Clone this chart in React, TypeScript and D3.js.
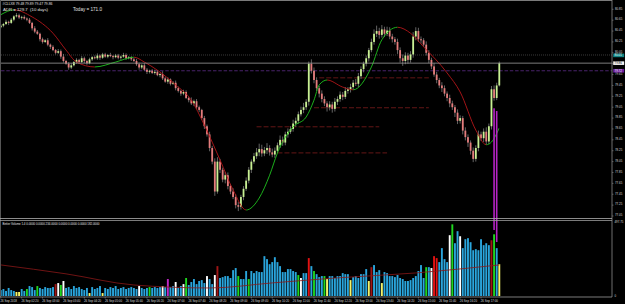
import React from "react";
import * as d3 from "d3";

// ---------- DATA ----------
const closes = [
  80.55,80.58,80.62,80.60,80.66,80.72,80.74,80.70,80.71,80.68,
  80.66,80.60,80.50,80.44,80.40,80.30,80.25,80.28,80.20,80.16,
  80.10,80.05,80.08,79.98,79.90,79.85,79.78,79.82,79.88,79.92,
  79.88,79.95,79.90,79.86,79.93,79.97,79.95,80.00,79.96,80.02,
  79.98,80.01,79.99,79.97,80.00,79.96,79.98,80.01,79.95,79.97,
  79.93,79.90,79.84,79.78,79.82,79.74,79.70,79.72,79.68,79.70,
  79.64,79.66,79.58,79.52,79.56,79.48,79.50,79.40,79.35,79.30,
  79.33,79.22,79.18,79.12,79.16,79.05,79.00,78.85,78.70,78.55,
  78.30,78.05,77.50,78.05,77.90,77.72,77.80,77.60,77.50,77.40,
  77.25,77.22,77.40,77.55,77.70,77.90,78.05,78.15,78.22,78.28,
  78.20,78.26,78.30,78.22,78.18,78.25,78.35,78.45,78.40,78.55,
  78.60,78.65,78.75,78.80,78.92,79.00,79.05,79.15,79.85,79.72,
  79.55,79.40,79.30,79.20,79.12,79.05,79.10,79.02,79.15,79.20,
  79.28,79.24,79.35,79.38,79.42,79.50,79.48,79.62,79.75,79.85,
  79.95,80.10,80.25,80.40,80.45,80.38,80.48,80.40,80.46,80.35,
  80.30,80.25,80.10,79.95,79.90,80.00,79.92,80.02,80.35,80.45,
  80.30,80.28,80.20,80.05,79.92,79.80,79.65,79.55,79.45,79.40,
  79.30,79.22,79.12,79.05,78.95,78.80,78.85,78.62,78.50,78.40,
  78.25,78.10,78.30,78.55,78.48,78.60,78.42,78.70,79.38,79.22,
  79.45,79.86,
];
const opens = [
  80.52,80.55,80.58,80.62,80.60,80.66,80.72,80.74,80.70,80.71,
  80.68,80.66,80.60,80.50,80.44,80.40,80.30,80.25,80.28,80.20,
  80.16,80.10,80.05,80.08,79.98,79.90,79.85,79.78,79.82,79.88,
  79.92,79.88,79.95,79.90,79.86,79.93,79.97,79.95,80.00,79.96,
  80.02,79.98,80.01,79.99,79.97,80.00,79.96,79.98,80.01,79.95,
  79.97,79.93,79.90,79.84,79.78,79.82,79.74,79.70,79.72,79.68,
  79.70,79.64,79.66,79.58,79.52,79.56,79.48,79.50,79.40,79.35,
  79.30,79.33,79.22,79.18,79.12,79.16,79.05,79.00,78.85,78.70,
  78.55,78.30,78.05,77.50,78.05,77.90,77.72,77.80,77.60,77.50,
  77.40,77.25,77.22,77.40,77.55,77.70,77.90,78.05,78.15,78.22,
  78.28,78.20,78.26,78.30,78.22,78.18,78.25,78.35,78.45,78.40,
  78.55,78.60,78.65,78.75,78.80,78.92,79.00,79.05,79.15,79.85,
  79.72,79.55,79.40,79.30,79.20,79.12,79.05,79.10,79.02,79.15,
  79.20,79.28,79.24,79.35,79.38,79.42,79.50,79.48,79.62,79.75,
  79.85,79.95,80.10,80.25,80.40,80.45,80.38,80.48,80.40,80.46,
  80.35,80.30,80.25,80.10,79.95,79.90,80.00,79.92,80.02,80.35,
  80.45,80.30,80.28,80.20,80.05,79.92,79.80,79.65,79.55,79.45,
  79.40,79.30,79.22,79.12,79.05,78.95,78.80,78.85,78.62,78.50,
  78.40,78.25,78.10,78.30,78.55,78.48,78.60,78.42,78.70,79.38,
  79.22,79.45,
];
// wick lengths above / below the body, in hundredths
const upperWick = [
  3,2,4,2,3,2,4,3,2,3, 2,3,2,4,3,2,3,2,4,2, 3,2,4,3,5,2,3,4,2,3, 2,4,3,2,3,2,3,4,2,3,
  3,2,4,2,3,3,2,4,3,2, 2,3,4,3,2,4,3,2,3,4, 3,2,5,3,4,2,3,4,3,2, 4,3,2,5,3,4,3,2,4,3,
  5,4,6,8,5,4,6,5,4,6, 5,6,4,5,6,5,4,6,8,10, 8,6,9,5,7,6,5,8,6,5, 6,5,7,6,5,6,8,5,4,8,
  6,5,4,6,5,4,6,5,7,5, 6,5,7,4,6,5,7,6,5,4, 5,4,6,8,10,6,8,5,7,6, 5,4,6,5,7,6,5,6,8,7,
  6,5,4,6,5,4,6,5,4,6, 5,4,6,5,4,6,5,4,6,5, 4,6,5,7,5,6,8,5,6,7, 5,3,
];
const lowerWick = [
  2,3,2,4,2,3,2,3,4,2, 3,2,4,3,2,4,3,2,3,4, 2,3,2,4,3,2,4,3,2,3, 3,2,4,3,2,3,2,3,4,2,
  2,3,2,4,2,3,4,2,3,2, 3,2,3,4,3,2,4,3,2,3, 2,4,3,2,4,3,2,4,3,4, 3,2,4,3,5,3,4,3,5,4,
  6,5,8,4,6,5,7,6,5,4, 6,8,5,6,4,5,6,4,5,7, 6,5,7,6,5,6,4,5,6,5, 6,4,5,6,5,4,6,5,7,5,
  6,5,7,6,5,8,6,7,5,6, 5,6,4,5,6,5,4,6,5,6, 5,6,4,5,6,7,5,6,4,5, 6,5,7,8,9,6,7,5,6,7,
  5,6,4,5,6,5,4,6,5,7, 5,6,7,5,8,6,5,7,6,8, 7,6,5,6,5,7,6,5,6,5, 4,2,
];
const volumes = [
  40,47,34,54,40,34,27,27,47,34, 47,67,60,40,67,54,47,60,54,54,
  60,80,87,74,101,54,60,47,67,54, 60,47,40,54,20,60,47,54,67,20,
  54,47,60,54,67,47,54,60,47,54, 60,54,47,67,54,47,54,60,54,60,
  54,60,67,60,114,60,67,94,54,67, 80,121,74,94,114,80,101,107,87,134,
  114,80,141,201,121,127,134,134,121,174, 188,134,114,114,168,114,168,154,168,161,
  161,268,248,214,228,261,228,201,161,161, 181,181,168,161,141,121,154,154,255,201,
  168,147,127,134,134,114,134,134,121,134, 134,154,147,147,107,127,134,121,147,147,
  181,101,194,208,161,174,87,161,154,134, 134,127,141,121,114,101,101,107,121,134,
  168,208,121,194,194,188,268,255,228,322, 248,228,409,482,355,436,402,322,382,389,
  362,308,315,308,382,342,355,342,375,415, 322,214,
];
// B blue, Y yellow, G green, W white, R red, D dark red, M magenta
const volumeKinds = (
  "BBBBBBYYBB" + "GBBBGBBBBB" + "BDWGWBBBBB" + "BBBBYBBBBY" + "BBBBBBBBBB" +
  "BBBWBBBGBB" + "BBWBMBBWBB" + "WGBBBBBBBW" + "BBWDBBBBBB" + "BGBBBGBBBB" +
  "BBBBBBBBBB" + "BBBBGWBBRB" + "GBBBGYBBBB" + "BBBBYBBBBB" + "BYDBBBYBBB" +
  "BBBBBBBBBB" + "BBBGBWRRBB" + "BBWGBBWBBB" + "BBBBBBBBDG" + "BY"
).split("");
const kindColor: Record<string, string> = {
  B: "#2aa5dc", Y: "#f4f46a", G: "#1fd61f", W: "#ffffff", R: "#e21212", D: "#a01616", M: "#c326c8",
};

// smoothed moving average of price
const maIdx = [0,5,12,20,25,29,36,44,51,55,60,67,73,78,84,89,94,99,103,106,112,117,120,122,125,131,135,142,146,152,157,162,171,176,182,186,188,191];
const maVal = [80.75,80.84,80.71,80.41,80.10,79.88,79.79,79.88,79.97,79.88,79.73,79.46,79.18,78.72,78.08,77.53,77.16,77.38,77.80,78.21,78.69,78.87,79.18,79.46,79.55,79.42,79.37,79.79,80.29,80.52,80.41,80.16,79.68,79.33,78.63,78.36,78.41,78.67];
const maTurns = [0,5,36,51,94,125,135,152,186,191];

// volume average
const volAvgIdx = [0,25,51,80,104,129,159,191];
const volAvg = [209,149,74,54,88,122,155,209];

// horizontal levels
const bidPrice = 79.86;
const dottedLevel = 80.01;
const purpleLevel = 79.72;
const redLevels = [79.59, 79.04, 78.69, 78.21];
const redFrom = [122, 120, 98, 106];
const redTo = [164, 164, 145, 148];

// magenta spikes
const spikeIdx = [189, 190];
const spikeTop = [79.03, 78.98];
const spikeBottomVol = [444, 363];

const priceTicks = [80.85,80.65,80.45,80.25,80.05,79.85,79.65,79.45,79.25,79.05,78.85,78.65,78.45,78.25,78.05,77.85,77.65,77.45,77.25,77.05];
const timeBars = [0,8,16,24,32,40,48,56,64,72,80,88,96,104,112,120,128,136,144,152,160,168,176,184];
const timeLabels = ["26 Sep 2018","26 Sep 02:20","26 Sep 03:00","26 Sep 03:40","26 Sep 04:20","26 Sep 05:00","26 Sep 05:40","26 Sep 06:20","26 Sep 07:00","26 Sep 07:40","26 Sep 08:20","26 Sep 09:00","26 Sep 09:40","26 Sep 10:20","26 Sep 11:00","26 Sep 11:40","26 Sep 12:20","26 Sep 13:00","26 Sep 13:40","26 Sep 14:20","26 Sep 15:00","26 Sep 15:40","26 Sep 16:20","26 Sep 17:00"];

const titleText = "#CLLX8 79.48 79.89 79.47 79.86";
const adrText = "ADR = 129.7  (10 days)";
const todayText = "Today = 171.0";
const volTitle = "Better Volume 1.4 0.0000 0.0000 234.0000 0.0000 0.0000 0.0000 182.0000";
const volMaxLabel = "497.75";

// ---------- CHART ----------
const W = 625, H = 304;
const FONT = "'Liberation Sans', Arial, sans-serif";

export default function App() {
  const N = closes.length;
  const x = d3.scaleLinear().domain([0, N - 1]).range([0.8, 499.3]);
  const y = d3.scaleLinear().domain([80.85, 77.05]).range([9.3, 216]);
  const yv = d3.scaleLinear().domain([0, 497.75]).range([296, 222]);

  const mainL = 1, mainR = 612, mainT = 1, mainB = 218.5;
  const volT = 220.5, volB = 297;

  const maPath = d3.line<number>()
    .x((_, k) => x(maIdx[k]))
    .y((d) => y(d))
    .curve(d3.curveMonotoneX)(maVal) || "";
  const volAvgPath = d3.line<number>()
    .x((_, k) => x(volAvgIdx[k]))
    .y((d) => yv(d))
    .curve(d3.curveMonotoneX)(volAvg) || "";

  const bw = 1.8;
  const boxH = 3.6;
  const lblFs = 2.9;

  return (
    <div style={{ position: "fixed", left: 0, top: 0 }}>
      <svg width={W} height={H} style={{ display: "block", background: "#000" }} fontFamily={FONT}>
        <rect x={0} y={0} width={W} height={H} fill="#000" />
        <defs>
          <clipPath id="mainClip">
            <rect x={mainL} y={mainT} width={mainR - mainL} height={mainB - mainT} />
          </clipPath>
          {maTurns.slice(0, -1).map((a, k) => (
            <clipPath id={`maclip${k}`} key={k}>
              <rect x={x(a)} y={0} width={x(maTurns[k + 1]) - x(a)} height={H} />
            </clipPath>
          ))}
        </defs>

        {/* horizontal levels */}
        <line x1={mainL} x2={mainR} y1={y(dottedLevel)} y2={y(dottedLevel)} stroke="#4a4a4a" strokeWidth={0.8} strokeDasharray="1,1" />
        <line x1={mainL} x2={mainR} y1={y(purpleLevel)} y2={y(purpleLevel)} stroke="#5c2c86" strokeWidth={0.8} strokeDasharray="3.5,1.8" />
        {redLevels.map((p, k) => (
          <line key={k} x1={x(redFrom[k])} x2={x(redTo[k])} y1={y(p)} y2={y(p)} stroke="#7c1c1c" strokeWidth={0.8} strokeDasharray="5,2" />
        ))}

        {/* candles */}
        <g clipPath="url(#mainClip)">
          {closes.map((c, i) => {
            const o = opens[i];
            const hi = Math.max(o, c) + upperWick[i] / 100;
            const lo = Math.min(o, c) - lowerWick[i] / 100;
            const bull = c >= o;
            const top = y(Math.max(o, c));
            const h = Math.max(0.8, y(Math.min(o, c)) - top);
            return (
              <g key={i}>
                <line x1={x(i)} x2={x(i)} y1={y(hi)} y2={y(lo)} stroke="#a8a8a8" strokeWidth={0.6} />
                <rect x={x(i) - bw / 2} y={top} width={bw} height={h} fill={bull ? "#c8f093" : "#e47c7c"} />
              </g>
            );
          })}
          {/* moving average, green rising / red falling */}
          {maTurns.slice(0, -1).map((_, k) => (
            <path key={k} d={maPath} fill="none" stroke={k % 2 === 0 ? "#1fc31f" : "#b3161a"} strokeWidth={0.9} clipPath={`url(#maclip${k})`} />
          ))}
        </g>

        {/* bid line */}
        <line x1={mainL} x2={mainR} y1={y(bidPrice)} y2={y(bidPrice)} stroke="#9c9c9c" strokeWidth={0.8} />

        {/* volume bars */}
        {volumes.map((v, i) => (
          <rect key={i} x={x(i) - 0.95} y={yv(v)} width={1.9} height={yv(0) - yv(v)} fill={kindColor[volumeKinds[i]]} />
        ))}
        <path d={volAvgPath} fill="none" stroke="#8a1818" strokeWidth={0.8} />

        {/* magenta spikes */}
        {spikeIdx.map((i, k) => (
          <rect key={k} x={x(i) - 0.8} y={y(spikeTop[k])} width={1.6} height={yv(spikeBottomVol[k]) - y(spikeTop[k])} fill="#b523c4" />
        ))}

        {/* frames */}
        <line x1={0} x2={mainR} y1={0.5} y2={0.5} stroke="#7a7a7a" strokeWidth={1} />
        <line x1={0.5} x2={0.5} y1={0} y2={volB} stroke="#555" strokeWidth={1} />
        <line x1={mainR} x2={mainR} y1={0} y2={volB} stroke="#8a8a8a" strokeWidth={0.8} />
        <line x1={0} x2={mainR} y1={mainB} y2={mainB} stroke="#b0b0b0" strokeWidth={0.8} />
        <line x1={0} x2={mainR} y1={volT} y2={volT} stroke="#9a9a9a" strokeWidth={0.8} />
        <line x1={0} x2={mainR} y1={volB} y2={volB} stroke="#9a9a9a" strokeWidth={0.8} />

        {/* price axis */}
        {priceTicks.map((p) => (
          <g key={p}>
            <line x1={mainR} x2={mainR + 1.5} y1={y(p)} y2={y(p)} stroke="#8a8a8a" strokeWidth={0.6} />
            <text x={615} y={y(p) + 0.3} fontSize={lblFs} fill="#d8d8d8">{p.toFixed(2)}</text>
          </g>
        ))}
        {/* level label boxes */}
        <rect x={613.2} y={y(dottedLevel) - boxH / 2 + 0.4} width={11} height={boxH} fill="#138484" />
        <text x={614.6} y={y(dottedLevel) + 1.4} fontSize={lblFs} fill="#e8ffff">{dottedLevel.toFixed(2)}</text>
        <rect x={613.2} y={y(bidPrice) - boxH / 2} width={11} height={boxH} fill="#f2f2f2" />
        <text x={614.6} y={y(bidPrice) + 1.0} fontSize={lblFs} fill="#000">{bidPrice.toFixed(2)}</text>
        <rect x={613.2} y={y(purpleLevel) - boxH / 2} width={11} height={boxH} fill="#6b1fa0" />
        <text x={614.6} y={y(purpleLevel) + 1.0} fontSize={lblFs} fill="#fff">{purpleLevel.toFixed(2)}</text>

        {/* volume axis */}
        <text x={614.5} y={yv(497.75) + 1.1} fontSize={lblFs} fill="#d8d8d8">{volMaxLabel}</text>
        <text x={614.5} y={yv(0) + 0.5} fontSize={lblFs} fill="#d8d8d8">0</text>

        {/* time axis */}
        {timeBars.map((b, k) => (
          <g key={b}>
            <line x1={x(b)} x2={x(b)} y1={volB} y2={volB + 1.5} stroke="#8a8a8a" strokeWidth={0.6} />
            <text x={x(b) - 0.3} y={301.8} fontSize={2.9} fill="#d8d8d8">{timeLabels[k]}</text>
          </g>
        ))}

        {/* texts */}
        <text x={2.5} y={4.8} fontSize={3.4} fill="#e0e0e0">{titleText}</text>
        <text x={3} y={11} fontSize={4.3} fill="#e0e0e0" xmlSpace="preserve">{adrText}</text>
        <text x={73} y={11} fontSize={4.6} fill="#e0e0e0">{todayText}</text>
        <text x={2.5} y={224.6} fontSize={2.9} fill="#e0e0e0">{volTitle}</text>
      </svg>
    </div>
  );
}
